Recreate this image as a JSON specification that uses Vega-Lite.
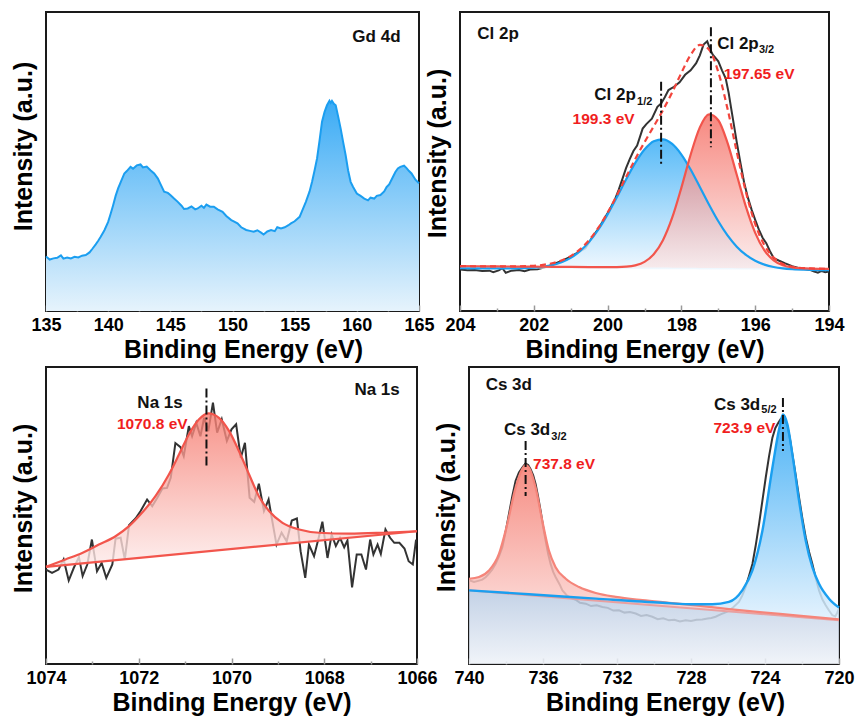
{
"$schema": "https://vega.github.io/schema/vega-lite/v6.json",
"background": "white",
"padding": {"left": 10, "top": 11, "right": 0, "bottom": 0},
"config": {
 "view": {"stroke": "#1a1a1a", "strokeWidth": 2},
 "font": "Liberation Sans",
 "axis": {"grid": false, "domain": false, "labelFont": "Liberation Sans", "titleFont": "Liberation Sans", "labelFontWeight": "bold", "titleFontWeight": "bold", "labelFontSize": 18, "titleFontSize": 25, "labelColor": "#000", "titleColor": "#000"},
 "axisY": {"ticks": false, "labels": false, "titlePadding": 10},
 "axisX": {"tickColor": "#999", "tickWidth": 1.5, "zindex": 1, "labelFlush": false, "labelOverlap": false, "labelPadding": 11, "titlePadding": 0, "format": "d"},
 "text": {"font": "Liberation Sans", "fontWeight": "bold"}
},
"datasets": {
 "gd": [{"x":135.0,"y":18.2},{"x":135.3,"y":17.2},{"x":135.6,"y":17.6},{"x":135.9,"y":17.8},{"x":136.2,"y":18.6},{"x":136.4,"y":17.5},{"x":136.7,"y":17.9},{"x":137.0,"y":17.6},{"x":137.3,"y":18.1},{"x":137.6,"y":17.9},{"x":137.9,"y":18.5},{"x":138.2,"y":18.7},{"x":138.5,"y":19.6},{"x":138.75,"y":20.9},{"x":139.0,"y":22.3},{"x":139.2,"y":23.5},{"x":139.4,"y":24.8},{"x":139.7,"y":27.0},{"x":140.0,"y":29.8},{"x":140.2,"y":32.5},{"x":140.4,"y":35.4},{"x":140.6,"y":38.5},{"x":140.8,"y":41.0},{"x":141.0,"y":43.0},{"x":141.3,"y":46.0},{"x":141.5,"y":46.8},{"x":141.8,"y":48.2},{"x":142.0,"y":47.6},{"x":142.3,"y":48.7},{"x":142.6,"y":49.0},{"x":142.8,"y":48.0},{"x":143.1,"y":48.3},{"x":143.4,"y":47.1},{"x":143.7,"y":46.0},{"x":144.0,"y":44.3},{"x":144.2,"y":42.5},{"x":144.5,"y":39.9},{"x":144.8,"y":39.5},{"x":145.0,"y":38.8},{"x":145.3,"y":37.6},{"x":145.6,"y":36.5},{"x":145.9,"y":35.2},{"x":146.1,"y":34.1},{"x":146.4,"y":34.3},{"x":146.7,"y":35.0},{"x":147.0,"y":34.0},{"x":147.2,"y":34.3},{"x":147.5,"y":35.2},{"x":147.7,"y":34.5},{"x":147.9,"y":35.6},{"x":148.2,"y":34.9},{"x":148.5,"y":34.9},{"x":148.8,"y":34.0},{"x":149.2,"y":33.2},{"x":149.5,"y":31.8},{"x":149.9,"y":30.4},{"x":150.1,"y":30.0},{"x":150.4,"y":29.3},{"x":150.7,"y":28.0},{"x":151.1,"y":27.1},{"x":151.4,"y":26.8},{"x":151.7,"y":26.5},{"x":152.0,"y":27.0},{"x":152.3,"y":26.2},{"x":152.5,"y":25.6},{"x":152.8,"y":26.6},{"x":153.1,"y":27.1},{"x":153.4,"y":26.7},{"x":153.6,"y":28.0},{"x":153.9,"y":27.6},{"x":154.2,"y":28.0},{"x":154.5,"y":28.7},{"x":154.7,"y":29.3},{"x":155.0,"y":30.0},{"x":155.4,"y":31.5},{"x":155.6,"y":33.5},{"x":155.9,"y":36.5},{"x":156.2,"y":40.0},{"x":156.4,"y":43.2},{"x":156.6,"y":47.0},{"x":156.8,"y":51.0},{"x":157.0,"y":57.0},{"x":157.2,"y":63.3},{"x":157.4,"y":66.5},{"x":157.6,"y":68.8},{"x":157.8,"y":70.3},{"x":157.9,"y":69.6},{"x":158.0,"y":70.3},{"x":158.15,"y":69.3},{"x":158.3,"y":68.8},{"x":158.5,"y":65.0},{"x":158.7,"y":61.0},{"x":158.9,"y":56.5},{"x":159.1,"y":52.1},{"x":159.3,"y":47.0},{"x":159.5,"y":43.2},{"x":159.7,"y":41.5},{"x":160.0,"y":39.3},{"x":160.3,"y":38.5},{"x":160.6,"y":37.6},{"x":160.9,"y":37.0},{"x":161.1,"y":37.9},{"x":161.4,"y":37.6},{"x":161.6,"y":38.5},{"x":161.9,"y":38.8},{"x":162.2,"y":40.0},{"x":162.4,"y":41.5},{"x":162.6,"y":42.3},{"x":162.9,"y":44.8},{"x":163.1,"y":46.5},{"x":163.3,"y":47.7},{"x":163.5,"y":48.2},{"x":163.8,"y":48.6},{"x":164.0,"y":47.8},{"x":164.2,"y":46.8},{"x":164.4,"y":46.0},{"x":164.7,"y":44.0},{"x":165.0,"y":42.7}],
 "clData": [{"x":204,"y":13.9},{"x":203.8,"y":13.6},{"x":203.6,"y":13.7},{"x":203.4,"y":13.4},{"x":203.2,"y":13.5},{"x":203.1,"y":13.0},{"x":202.95,"y":13.6},{"x":202.85,"y":14.3},{"x":202.76,"y":12.8},{"x":202.6,"y":13.5},{"x":202.4,"y":13.7},{"x":202.25,"y":13.3},{"x":202.1,"y":13.9},{"x":201.9,"y":14.0},{"x":201.7,"y":14.6},{"x":201.55,"y":15.2},{"x":201.4,"y":16.0},{"x":201.2,"y":17.0},{"x":201.0,"y":18.2},{"x":200.8,"y":19.6},{"x":200.6,"y":21.0},{"x":200.4,"y":25.0},{"x":200.25,"y":27.5},{"x":200.1,"y":30.6},{"x":199.95,"y":33.8},{"x":199.8,"y":37.3},{"x":199.7,"y":40.5},{"x":199.6,"y":44.1},{"x":199.5,"y":47.8},{"x":199.4,"y":50.8},{"x":199.3,"y":53.5},{"x":199.2,"y":55.3},{"x":199.05,"y":61.0},{"x":198.95,"y":62.5},{"x":198.8,"y":64.3},{"x":198.65,"y":68.3},{"x":198.55,"y":69.4},{"x":198.45,"y":71.5},{"x":198.35,"y":73.9},{"x":198.2,"y":75.0},{"x":198.05,"y":76.5},{"x":197.9,"y":79.0},{"x":197.75,"y":80.5},{"x":197.6,"y":82.9},{"x":197.5,"y":85.5},{"x":197.4,"y":89.1},{"x":197.3,"y":90.2},{"x":197.22,"y":87.5},{"x":197.15,"y":85.7},{"x":197.0,"y":83.5},{"x":196.9,"y":80.5},{"x":196.8,"y":77.8},{"x":196.72,"y":73.0},{"x":196.65,"y":67.7},{"x":196.5,"y":56.5},{"x":196.4,"y":49.5},{"x":196.3,"y":43.0},{"x":196.2,"y":38.0},{"x":196.1,"y":34.0},{"x":196.0,"y":30.5},{"x":195.9,"y":27.2},{"x":195.8,"y":24.5},{"x":195.7,"y":22.7},{"x":195.6,"y":20.0},{"x":195.5,"y":17.7},{"x":195.35,"y":16.8},{"x":195.2,"y":16.0},{"x":195.0,"y":15.0},{"x":194.8,"y":14.3},{"x":194.6,"y":13.9},{"x":194.5,"y":13.7},{"x":194.4,"y":13.2},{"x":194.3,"y":12.8},{"x":194.2,"y":13.4},{"x":194.1,"y":13.0},{"x":194.0,"y":13.2}],
 "clBlue": [{"x":204,"y":14.30,"y2":14.30},{"x":203.5,"y":14.27,"y2":14.27},{"x":203,"y":14.25,"y2":14.24},{"x":202.5,"y":14.28,"y2":14.21},{"x":202,"y":14.50,"y2":14.18},{"x":201.75,"y":14.80,"y2":14.17},{"x":201.5,"y":15.34,"y2":14.15},{"x":201.25,"y":16.28,"y2":14.14},{"x":201,"y":17.76,"y2":14.12},{"x":200.75,"y":20.00,"y2":14.11},{"x":200.5,"y":23.13,"y2":14.09},{"x":200.25,"y":27.26,"y2":14.08},{"x":200,"y":32.31,"y2":14.06},{"x":199.75,"y":38.04,"y2":14.05},{"x":199.5,"y":43.99,"y2":14.03},{"x":199.25,"y":49.55,"y2":14.02},{"x":199,"y":54.01,"y2":14.00},{"x":198.75,"y":56.78,"y2":13.99},{"x":198.5,"y":57.42,"y2":13.97},{"x":198.25,"y":55.87,"y2":13.96},{"x":198,"y":52.33,"y2":13.94},{"x":197.75,"y":47.32,"y2":13.93},{"x":197.5,"y":41.49,"y2":13.91},{"x":197.25,"y":35.54,"y2":13.90},{"x":197,"y":30.00,"y2":13.88},{"x":196.75,"y":25.27,"y2":13.87},{"x":196.5,"y":21.51,"y2":13.85},{"x":196.25,"y":18.73,"y2":13.84},{"x":196,"y":16.78,"y2":13.82},{"x":195.75,"y":15.51,"y2":13.81},{"x":195.5,"y":14.72,"y2":13.79},{"x":195.25,"y":14.26,"y2":13.78},{"x":195,"y":14.00,"y2":13.76},{"x":194.5,"y":13.78,"y2":13.73},{"x":194,"y":13.70,"y2":13.70}],
 "clRed": [{"x":204,"y":15.00,"y2":15.00},{"x":203.5,"y":14.96,"y2":14.96},{"x":203,"y":14.91,"y2":14.91},{"x":202.5,"y":14.87,"y2":14.87},{"x":202,"y":14.82,"y2":14.82},{"x":201.5,"y":14.78,"y2":14.78},{"x":201,"y":14.73,"y2":14.73},{"x":200.5,"y":14.69,"y2":14.69},{"x":200.25,"y":14.67,"y2":14.66},{"x":200,"y":14.66,"y2":14.64},{"x":199.75,"y":14.69,"y2":14.62},{"x":199.5,"y":14.83,"y2":14.60},{"x":199.25,"y":15.28,"y2":14.57},{"x":199,"y":16.44,"y2":14.55},{"x":198.75,"y":18.96,"y2":14.53},{"x":198.5,"y":23.69,"y2":14.51},{"x":198.25,"y":31.20,"y2":14.48},{"x":198,"y":41.27,"y2":14.46},{"x":197.75,"y":52.26,"y2":14.44},{"x":197.5,"y":61.40,"y2":14.42},{"x":197.25,"y":65.76,"y2":14.39},{"x":197,"y":63.81,"y2":14.37},{"x":196.75,"y":56.24,"y2":14.35},{"x":196.5,"y":45.57,"y2":14.33},{"x":196.25,"y":34.81,"y2":14.30},{"x":196,"y":26.13,"y2":14.28},{"x":195.75,"y":20.29,"y2":14.26},{"x":195.5,"y":16.94,"y2":14.24},{"x":195.25,"y":15.27,"y2":14.21},{"x":195,"y":14.56,"y2":14.19},{"x":194.5,"y":14.18,"y2":14.15},{"x":194,"y":14.10,"y2":14.10}],
 "clEnv": [{"x":204,"y":15.0},{"x":203,"y":14.92},{"x":202.5,"y":14.94},{"x":202,"y":15.14},{"x":201.75,"y":15.43},{"x":201.5,"y":15.97},{"x":201.25,"y":16.89},{"x":201,"y":18.37},{"x":200.75,"y":20.60},{"x":200.5,"y":23.73},{"x":200.25,"y":27.85},{"x":200,"y":32.91},{"x":199.75,"y":38.68},{"x":199.5,"y":44.79},{"x":199.25,"y":50.81},{"x":199,"y":56.45},{"x":198.75,"y":61.75},{"x":198.5,"y":67.14},{"x":198.25,"y":73.11},{"x":198,"y":79.66},{"x":197.75,"y":85.65},{"x":197.5,"y":88.98},{"x":197.25,"y":87.40},{"x":197,"y":79.93},{"x":196.75,"y":67.64},{"x":196.5,"y":53.23},{"x":196.25,"y":39.70},{"x":196,"y":29.09},{"x":195.75,"y":21.99},{"x":195.5,"y":17.87},{"x":195.25,"y":15.75},{"x":195,"y":14.80},{"x":194.5,"y":14.23},{"x":194,"y":14.10}],
 "naData": [{"x":1074.0,"y":31.8},{"x":1073.87,"y":30.7},{"x":1073.73,"y":31.8},{"x":1073.62,"y":35.2},{"x":1073.51,"y":28.1},{"x":1073.40,"y":32.4},{"x":1073.29,"y":36.0},{"x":1073.21,"y":29.6},{"x":1073.11,"y":33.5},{"x":1073.01,"y":41.9},{"x":1072.90,"y":31.2},{"x":1072.80,"y":34.0},{"x":1072.70,"y":29.0},{"x":1072.57,"y":33.5},{"x":1072.50,"y":42.2},{"x":1072.39,"y":42.5},{"x":1072.30,"y":35.2},{"x":1072.21,"y":46.7},{"x":1072.07,"y":49.0},{"x":1071.96,"y":51.5},{"x":1071.82,"y":55.4},{"x":1071.71,"y":53.1},{"x":1071.60,"y":56.0},{"x":1071.49,"y":59.1},{"x":1071.39,"y":59.3},{"x":1071.31,"y":62.7},{"x":1071.21,"y":74.4},{"x":1071.10,"y":73.0},{"x":1071.03,"y":70.0},{"x":1070.92,"y":80.1},{"x":1070.85,"y":76.7},{"x":1070.76,"y":81.2},{"x":1070.67,"y":76.7},{"x":1070.59,"y":82.9},{"x":1070.50,"y":78.4},{"x":1070.40,"y":88.0},{"x":1070.31,"y":77.9},{"x":1070.21,"y":82.4},{"x":1070.10,"y":75.1},{"x":1070.00,"y":79.0},{"x":1069.90,"y":80.7},{"x":1069.80,"y":69.4},{"x":1069.71,"y":74.5},{"x":1069.61,"y":56.0},{"x":1069.51,"y":54.6},{"x":1069.41,"y":60.7},{"x":1069.30,"y":51.5},{"x":1069.20,"y":55.4},{"x":1069.12,"y":48.1},{"x":1069.03,"y":40.2},{"x":1068.92,"y":44.2},{"x":1068.81,"y":41.3},{"x":1068.70,"y":48.3},{"x":1068.59,"y":49.0},{"x":1068.51,"y":38.0},{"x":1068.41,"y":29.0},{"x":1068.33,"y":40.2},{"x":1068.22,"y":36.3},{"x":1068.12,"y":42.5},{"x":1068.04,"y":47.9},{"x":1067.93,"y":35.7},{"x":1067.84,"y":43.6},{"x":1067.75,"y":39.7},{"x":1067.66,"y":42.5},{"x":1067.57,"y":39.3},{"x":1067.50,"y":41.6},{"x":1067.40,"y":25.8},{"x":1067.30,"y":36.9},{"x":1067.20,"y":36.9},{"x":1067.10,"y":31.8},{"x":1067.01,"y":41.9},{"x":1066.94,"y":36.9},{"x":1066.85,"y":40.2},{"x":1066.78,"y":37.1},{"x":1066.68,"y":45.3},{"x":1066.58,"y":42.5},{"x":1066.49,"y":40.8},{"x":1066.38,"y":40.8},{"x":1066.27,"y":38.9},{"x":1066.18,"y":34.6},{"x":1066.09,"y":33.5},{"x":1066.02,"y":41.9}],
 "naFit": [{"x":1074,"y":32.7,"y2":32.7},{"x":1073.58,"y":35.2,"y2":33.33},{"x":1073.22,"y":37.4,"y2":33.87},{"x":1072.86,"y":40.2,"y2":34.41},{"x":1072.5,"y":43.0,"y2":34.95},{"x":1072.21,"y":46.4,"y2":35.39},{"x":1071.93,"y":50.9,"y2":35.81},{"x":1071.64,"y":56.5,"y2":36.24},{"x":1071.35,"y":63.8,"y2":36.68},{"x":1071.13,"y":70.6,"y2":37.01},{"x":1070.92,"y":77.3,"y2":37.32},{"x":1070.7,"y":82.4,"y2":37.65},{"x":1070.5,"y":84.4,"y2":37.95},{"x":1070.27,"y":82.9,"y2":38.30},{"x":1070.05,"y":78.4,"y2":38.63},{"x":1069.84,"y":71.7,"y2":38.94},{"x":1069.62,"y":63.8,"y2":39.27},{"x":1069.41,"y":56.5,"y2":39.59},{"x":1069.19,"y":51.5,"y2":39.92},{"x":1068.9,"y":47.5,"y2":40.35},{"x":1068.54,"y":45.3,"y2":40.89},{"x":1068.11,"y":44.2,"y2":41.54},{"x":1067.46,"y":43.9,"y2":42.51},{"x":1066.74,"y":44.2,"y2":43.59},{"x":1066.0,"y":44.7,"y2":44.70}],
 "naBase": [{"x":1074,"y":32.7},{"x":1066,"y":44.7}],
 "csData": [{"x":740,"y":28.2},{"x":739.73,"y":27.6},{"x":739.5,"y":28.0},{"x":739.28,"y":28.4},{"x":739.1,"y":29.2},{"x":738.92,"y":30.4},{"x":738.74,"y":31.8},{"x":738.56,"y":33.7},{"x":738.38,"y":36.2},{"x":738.2,"y":39.3},{"x":738.02,"y":44.5},{"x":737.84,"y":50.5},{"x":737.66,"y":56.5},{"x":737.48,"y":61.7},{"x":737.3,"y":64.5},{"x":737.12,"y":66.1},{"x":736.95,"y":67.5},{"x":736.8,"y":67.0},{"x":736.67,"y":65.6},{"x":736.53,"y":63.5},{"x":736.4,"y":60.6},{"x":736.27,"y":56.5},{"x":736.13,"y":51.6},{"x":736.0,"y":46.5},{"x":735.86,"y":41.6},{"x":735.72,"y":37.0},{"x":735.59,"y":33.7},{"x":735.45,"y":31.0},{"x":735.32,"y":29.3},{"x":735.1,"y":26.8},{"x":734.95,"y":24.8},{"x":734.7,"y":23.0},{"x":734.41,"y":22.0},{"x":734.2,"y":21.5},{"x":734.0,"y":20.6},{"x":733.69,"y":20.3},{"x":733.4,"y":19.5},{"x":733.1,"y":19.8},{"x":732.79,"y":19.2},{"x":732.5,"y":18.9},{"x":732.2,"y":18.0},{"x":731.89,"y":18.1},{"x":731.6,"y":17.3},{"x":731.3,"y":17.5},{"x":730.99,"y":17.0},{"x":730.7,"y":16.2},{"x":730.4,"y":16.5},{"x":730.09,"y":15.9},{"x":729.8,"y":15.1},{"x":729.5,"y":15.4},{"x":729.19,"y":14.7},{"x":728.9,"y":14.9},{"x":728.6,"y":14.3},{"x":728.29,"y":14.7},{"x":728.0,"y":14.5},{"x":727.7,"y":14.9},{"x":727.39,"y":15.0},{"x":727.1,"y":15.3},{"x":726.9,"y":15.5},{"x":726.67,"y":15.9},{"x":726.4,"y":16.7},{"x":726.2,"y":17.2},{"x":725.95,"y":17.9},{"x":725.7,"y":19.2},{"x":725.41,"y":20.9},{"x":725.23,"y":23.0},{"x":725.05,"y":25.9},{"x":724.87,"y":29.5},{"x":724.68,"y":33.7},{"x":724.5,"y":40.0},{"x":724.32,"y":47.2},{"x":724.14,"y":55.0},{"x":723.96,"y":62.8},{"x":723.78,"y":70.0},{"x":723.6,"y":76.2},{"x":723.44,"y":79.5},{"x":723.28,"y":81.2},{"x":723.15,"y":82.5},{"x":723.03,"y":82.9},{"x":722.9,"y":81.8},{"x":722.79,"y":80.1},{"x":722.65,"y":75.8},{"x":722.52,"y":70.6},{"x":722.34,"y":63.5},{"x":722.16,"y":56.1},{"x":721.98,"y":49.0},{"x":721.8,"y":42.7},{"x":721.62,"y":37.8},{"x":721.44,"y":33.7},{"x":721.26,"y":29.0},{"x":721.08,"y":24.8},{"x":720.9,"y":21.8},{"x":720.72,"y":19.8},{"x":720.54,"y":18.0},{"x":720.36,"y":16.4},{"x":720.2,"y":16.0},{"x":720.1,"y":17.2},{"x":720.0,"y":18.7}],
 "csBase": [{"x":740,"y":24.8},{"x":720,"y":14.7}],
 "csRed": [{"x":740,"y":28.7,"y2":24.8},{"x":739.46,"y":29.3,"y2":24.53},{"x":738.92,"y":31.5,"y2":24.25},{"x":738.38,"y":37.1,"y2":23.98},{"x":737.93,"y":47.2,"y2":23.75},{"x":737.48,"y":59.4,"y2":23.52},{"x":737.12,"y":65.6,"y2":23.34},{"x":736.94,"y":67.0,"y2":23.25},{"x":736.76,"y":66.1,"y2":23.16},{"x":736.4,"y":59.4,"y2":22.98},{"x":736.04,"y":48.3,"y2":22.80},{"x":735.68,"y":38.2,"y2":22.62},{"x":735.32,"y":32.6,"y2":22.44},{"x":734.77,"y":28.7,"y2":22.16},{"x":734.05,"y":25.9,"y2":21.79},{"x":733.15,"y":23.9,"y2":21.34},{"x":732.07,"y":22.6,"y2":20.79},{"x":730.63,"y":21.5,"y2":20.07},{"x":729.19,"y":20.6,"y2":19.34},{"x":727.75,"y":19.7,"y2":18.61},{"x":725.95,"y":18.5,"y2":17.70},{"x":724.14,"y":17.4,"y2":16.79},{"x":722.34,"y":16.4,"y2":15.88},{"x":720,"y":15.0,"y2":14.7}],
 "csBlue": [{"x":740,"y":24.8,"y2":24.8},{"x":736.76,"y":23.5,"y2":23.16},{"x":733.15,"y":22.0,"y2":21.34},{"x":729.55,"y":20.6,"y2":19.52},{"x":727.75,"y":20.1,"y2":18.61},{"x":726.85,"y":20.1,"y2":18.15},{"x":725.95,"y":20.9,"y2":17.70},{"x":725.23,"y":24.8,"y2":17.34},{"x":724.68,"y":31.5,"y2":17.06},{"x":724.14,"y":44.9,"y2":16.79},{"x":723.6,"y":66.1,"y2":16.52},{"x":723.24,"y":79.0,"y2":16.33},{"x":723.03,"y":84.0,"y2":16.23},{"x":722.79,"y":80.7,"y2":16.11},{"x":722.52,"y":70.6,"y2":15.97},{"x":722.16,"y":55.0,"y2":15.79},{"x":721.8,"y":41.6,"y2":15.61},{"x":721.44,"y":32.6,"y2":15.43},{"x":721.08,"y":27.0,"y2":15.25},{"x":720.54,"y":22.0,"y2":14.97},{"x":720,"y":19.0,"y2":14.7}]
},
"vconcat": [
 {"hconcat": [
  {"width": 373, "height": 299,
   "encoding": {
    "x": {"field": "x", "type": "quantitative", "scale": {"domain": [135, 165], "nice": false, "zero": false}, "axis": {"title": "Binding Energy (eV)", "titleX": 197, "values": [135,137.5,140,142.5,145,147.5,150,152.5,155,157.5,160,162.5,165], "labelExpr": "datum.value % 5 === 0 ? datum.label : ''", "tickSize": {"condition": {"test": "datum.value % 5 === 0", "value": -6}, "value": -3}}},
    "y": {"field": "y", "type": "quantitative", "scale": {"domain": [0, 100], "nice": false}, "axis": {"title": "Intensity (a.u.)", "titleY": 134}}
   },
   "layer": [
    {"data": {"name": "gd"}, "mark": {"type": "area", "opacity": 1, "fill": {"gradient": "linear", "x1": 0, "y1": 0, "x2": 0, "y2": 1, "stops": [{"offset": 0, "color": "#3aabf5"}, {"offset": 1, "color": "#e6f3fc"}]}}},
    {"data": {"name": "gd"}, "mark": {"type": "line", "color": "#1b9ef0", "strokeWidth": 2}},
    {"data": {"values": [{"x": 159.64, "y": 91.6, "t": "Gd 4d"}]}, "mark": {"type": "text", "align": "left", "baseline": "middle", "fontSize": 17, "color": "#111"}, "encoding": {"text": {"field": "t"}}}
   ]},
  {"width": 369, "height": 299,
   "encoding": {
    "x": {"field": "x", "type": "quantitative", "scale": {"domain": [204, 194], "nice": false, "zero": false}, "axis": {"title": "Binding Energy (eV)", "values": [204,203,202,201,200,199,198,197,196,195,194], "labelExpr": "datum.value % 2 === 0 ? datum.label : ''", "tickSize": {"condition": {"test": "datum.value % 2 === 0", "value": -6}, "value": -3}}},
    "y": {"field": "y", "type": "quantitative", "scale": {"domain": [0, 100], "nice": false}, "axis": {"title": "Intensity (a.u.)", "titleY": 141}}
   },
   "layer": [
    {"data": {"name": "clData"}, "mark": {"type": "line", "color": "#333", "strokeWidth": 2}},
    {"data": {"name": "clBlue"}, "mark": {"type": "area", "interpolate": "monotone", "opacity": 0.85, "fill": {"gradient": "linear", "x1": 0, "y1": 0, "x2": 0, "y2": 1, "stops": [{"offset": 0, "color": "#3aaef6"}, {"offset": 1, "color": "#eef7fe"}]}}, "encoding": {"y2": {"field": "y2"}}},
    {"data": {"name": "clRed"}, "mark": {"type": "area", "interpolate": "monotone", "opacity": 0.72, "fill": {"gradient": "linear", "x1": 0, "y1": 0, "x2": 0, "y2": 1, "stops": [{"offset": 0, "color": "#f45a4e"}, {"offset": 1, "color": "#fae6e6"}]}}, "encoding": {"y2": {"field": "y2"}}},
    {"data": {"name": "clBlue"}, "mark": {"type": "line", "interpolate": "monotone", "color": "#1a9ff0", "strokeWidth": 2.2}},
    {"data": {"name": "clRed"}, "mark": {"type": "line", "interpolate": "monotone", "color": "#f2554c", "strokeWidth": 2.2}},
    {"data": {"name": "clEnv"}, "mark": {"type": "line", "interpolate": "monotone", "color": "#f2443c", "strokeWidth": 2.2, "strokeDash": [6, 4]}},
    {"data": {"values": [{"x": 198.55, "y": 76.7, "y2": 48.6}, {"x": 197.2, "y": 94.9, "y2": 54.8}]}, "mark": {"type": "rule", "color": "#111", "strokeWidth": 2, "strokeDash": [9, 3, 2, 3]}, "encoding": {"y2": {"field": "y2"}}},
    {"data": {"values": [{"x": 203.53, "y": 92.8, "t": "Cl 2p"}, {"x": 200.36, "y": 72.2, "t": "Cl 2p"}, {"x": 197.03, "y": 89.3, "t": "Cl 2p"}]}, "mark": {"type": "text", "align": "left", "baseline": "middle", "fontSize": 17, "color": "#111"}, "encoding": {"text": {"field": "t"}}},
    {"data": {"values": [{"x": 199.2, "y": 70.0, "t": "1/2"}, {"x": 195.9, "y": 87.2, "t": "3/2"}]}, "mark": {"type": "text", "align": "left", "baseline": "middle", "fontSize": 11, "color": "#111"}, "encoding": {"text": {"field": "t"}}},
    {"data": {"values": [{"x": 200.95, "y": 64.3, "t": "199.3 eV"}, {"x": 196.85, "y": 79.4, "t": "197.65 eV"}]}, "mark": {"type": "text", "align": "left", "baseline": "middle", "fontSize": 15.5, "color": "#f01e1e"}, "encoding": {"text": {"field": "t"}}}
   ]}
 ], "spacing": 41, "bounds": "flush"},
 {"hconcat": [
  {"width": 371, "height": 297,
   "encoding": {
    "x": {"field": "x", "type": "quantitative", "scale": {"domain": [1074, 1066], "nice": false, "zero": false}, "axis": {"title": "Binding Energy (eV)", "values": [1074,1073,1072,1071,1070,1069,1068,1067,1066], "labelExpr": "datum.value % 2 === 0 ? datum.label : ''", "tickSize": {"condition": {"test": "datum.value % 2 === 0", "value": -6}, "value": -3}}},
    "y": {"field": "y", "type": "quantitative", "scale": {"domain": [0, 100], "nice": false}, "axis": {"title": "Intensity (a.u.)", "titleY": 141}}
   },
   "layer": [
    {"data": {"name": "naData"}, "mark": {"type": "line", "color": "#333", "strokeWidth": 2}},
    {"data": {"name": "naFit"}, "mark": {"type": "area", "interpolate": "monotone", "opacity": 0.8, "fill": {"gradient": "linear", "x1": 0, "y1": 0, "x2": 0, "y2": 1, "stops": [{"offset": 0, "color": "#f67a6e"}, {"offset": 1, "color": "#fdeceb"}]}}, "encoding": {"y2": {"field": "y2"}}},
    {"data": {"name": "naBase"}, "mark": {"type": "line", "color": "#f2554c", "strokeWidth": 2.2}},
    {"data": {"name": "naFit"}, "mark": {"type": "line", "interpolate": "monotone", "color": "#f2554c", "strokeWidth": 2.2}},
    {"data": {"values": [{"x": 1070.54, "y": 92.8, "y2": 66.6}]}, "mark": {"type": "rule", "color": "#111", "strokeWidth": 2, "strokeDash": [9, 3, 2, 3]}, "encoding": {"y2": {"field": "y2"}}},
    {"data": {"values": [{"x": 1067.35, "y": 92.1, "t": "Na 1s"}, {"x": 1072.03, "y": 88.0, "t": "Na 1s"}]}, "mark": {"type": "text", "align": "left", "baseline": "middle", "fontSize": 17, "color": "#111"}, "encoding": {"text": {"field": "t"}}},
    {"data": {"values": [{"x": 1072.47, "y": 80.7, "t": "1070.8 eV"}]}, "mark": {"type": "text", "align": "left", "baseline": "middle", "fontSize": 15.5, "color": "#f01e1e"}, "encoding": {"text": {"field": "t"}}}
   ]},
  {"width": 370, "height": 297,
   "encoding": {
    "x": {"field": "x", "type": "quantitative", "scale": {"domain": [740, 720], "nice": false, "zero": false}, "axis": {"title": "Binding Energy (eV)", "titleX": 196, "values": [740,738,736,734,732,730,728,726,724,722,720], "labelExpr": "datum.value % 4 === 0 ? datum.label : ''", "tickSize": {"condition": {"test": "datum.value % 4 === 0", "value": -6}, "value": -3}}},
    "y": {"field": "y", "type": "quantitative", "scale": {"domain": [0, 100], "nice": false}, "axis": {"title": "Intensity (a.u.)", "titleY": 140}}
   },
   "layer": [
    {"data": {"name": "csData"}, "mark": {"type": "line", "color": "#333", "strokeWidth": 2, "clip": true}},
    {"data": {"name": "csBase"}, "mark": {"type": "area", "opacity": 0.85, "fill": {"gradient": "linear", "x1": 0, "y1": 0, "x2": 0, "y2": 1, "stops": [{"offset": 0, "color": "#b9cae2"}, {"offset": 1, "color": "#eef2f8"}]}}},
    {"data": {"name": "csBlue"}, "mark": {"type": "area", "interpolate": "monotone", "opacity": 0.85, "fill": {"gradient": "linear", "x1": 0, "y1": 0, "x2": 0, "y2": 1, "stops": [{"offset": 0, "color": "#2ea6f4"}, {"offset": 1, "color": "#dff0fd"}]}}, "encoding": {"y2": {"field": "y2"}}},
    {"data": {"name": "csRed"}, "mark": {"type": "area", "interpolate": "monotone", "opacity": 0.85, "fill": {"gradient": "linear", "x1": 0, "y1": 0, "x2": 0, "y2": 1, "stops": [{"offset": 0, "color": "#f4796d"}, {"offset": 1, "color": "#fcd9d6"}]}}, "encoding": {"y2": {"field": "y2"}}},
    {"data": {"name": "csBase"}, "mark": {"type": "line", "color": "#e9a0a0", "strokeWidth": 2}},
    {"data": {"name": "csRed"}, "mark": {"type": "line", "interpolate": "monotone", "color": "#f5857a", "strokeWidth": 2.2}},
    {"data": {"name": "csBlue"}, "mark": {"type": "line", "interpolate": "monotone", "color": "#1a9ff0", "strokeWidth": 2.4}},
    {"data": {"values": [{"x": 736.94, "y": 75.1, "y2": 56.6}, {"x": 723.03, "y": 89.6, "y2": 71.7}]}, "mark": {"type": "rule", "color": "#111", "strokeWidth": 2, "strokeDash": [9, 3, 2, 3]}, "encoding": {"y2": {"field": "y2"}}},
    {"data": {"values": [{"x": 739.1, "y": 94.1, "t": "Cs 3d"}, {"x": 738.11, "y": 78.7, "t": "Cs 3d"}, {"x": 726.76, "y": 87.2, "t": "Cs 3d"}]}, "mark": {"type": "text", "align": "left", "baseline": "middle", "fontSize": 17, "color": "#111"}, "encoding": {"text": {"field": "t"}}},
    {"data": {"values": [{"x": 735.55, "y": 76.4, "t": "3/2"}, {"x": 724.2, "y": 85.4, "t": "5/2"}]}, "mark": {"type": "text", "align": "left", "baseline": "middle", "fontSize": 11, "color": "#111"}, "encoding": {"text": {"field": "t"}}},
    {"data": {"values": [{"x": 736.54, "y": 67.5, "t": "737.8 eV"}, {"x": 726.79, "y": 79.3, "t": "723.9 eV"}]}, "mark": {"type": "text", "align": "left", "baseline": "middle", "fontSize": 15.5, "color": "#f01e1e"}, "encoding": {"text": {"field": "t"}}}
   ]}
 ], "spacing": 52, "bounds": "flush"}
],
"spacing": 3
}
